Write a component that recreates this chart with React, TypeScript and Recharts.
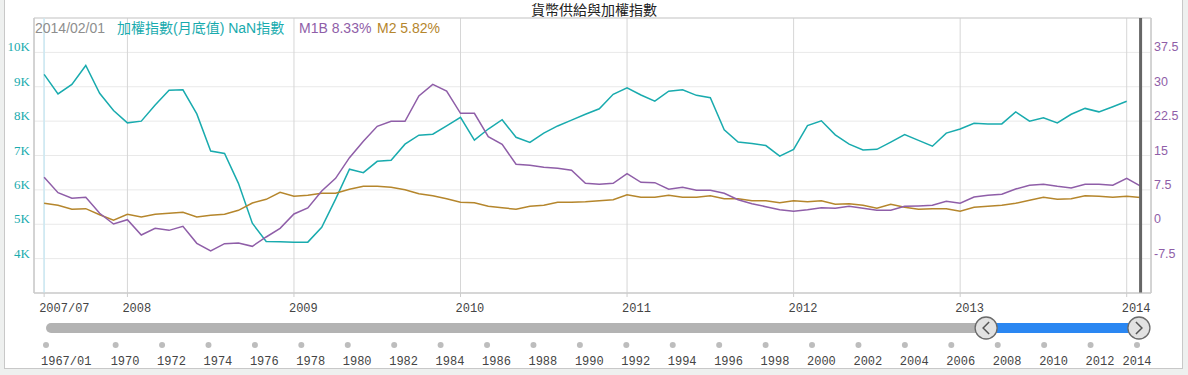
import React from 'react';
import {
  LineChart,
  Line,
  XAxis,
  YAxis,
  CartesianGrid,
  ReferenceLine,
  ReferenceArea,
  ReferenceDot,
} from 'recharts';

// monthly points, 2007/07 .. 2014/02
const months = [
  '2007/07', '2007/08', '2007/09', '2007/10', '2007/11', '2007/12',
  '2008/01', '2008/02', '2008/03', '2008/04', '2008/05', '2008/06', '2008/07', '2008/08', '2008/09', '2008/10', '2008/11', '2008/12',
  '2009/01', '2009/02', '2009/03', '2009/04', '2009/05', '2009/06', '2009/07', '2009/08', '2009/09', '2009/10', '2009/11', '2009/12',
  '2010/01', '2010/02', '2010/03', '2010/04', '2010/05', '2010/06', '2010/07', '2010/08', '2010/09', '2010/10', '2010/11', '2010/12',
  '2011/01', '2011/02', '2011/03', '2011/04', '2011/05', '2011/06', '2011/07', '2011/08', '2011/09', '2011/10', '2011/11', '2011/12',
  '2012/01', '2012/02', '2012/03', '2012/04', '2012/05', '2012/06', '2012/07', '2012/08', '2012/09', '2012/10', '2012/11', '2012/12',
  '2013/01', '2013/02', '2013/03', '2013/04', '2013/05', '2013/06', '2013/07', '2013/08', '2013/09', '2013/10', '2013/11', '2013/12',
  '2014/01', '2014/02',
];

// 加權指數(月底值)
const taiex = [
  9360, 8790, 9070, 9620, 8810, 8310,
  7950, 8000, 8470, 8900, 8910, 8210, 7130, 7060, 6190, 5030, 4500, 4490,
  4480, 4480, 4910, 5730, 6600, 6500, 6830, 6860, 7330, 7590, 7620, 7860,
  8110, 7450, 7770, 8040, 7530, 7380, 7650, 7860, 8030, 8200, 8360, 8780,
  8970, 8760, 8580, 8870, 8910, 8750, 8680, 7750, 7390, 7350, 7290, 6980,
  7180, 7870, 8010, 7600, 7330, 7160, 7180, 7390, 7610, 7440, 7270, 7650,
  7770, 7940, 7920, 7920, 8270, 8000, 8100, 7950, 8200, 8370, 8270, 8420,
  8580,
];

// M1B 年增率 (%)
const m1b = [
  10.24, 6.88, 5.66, 5.88, 2.39, 0.06,
  1.0, -2.35, -0.9, -1.33, -0.45, -4.16, -5.84, -4.24, -4.09, -4.82, -2.78, -0.89,
  2.24, 3.55, 7.26, 10.02, 14.52, 18.1, 21.37, 22.46, 22.46, 27.98, 30.53, 29.07,
  24.2, 24.2, 19.1, 17.44, 13.08, 12.86, 12.42, 12.2, 11.77, 8.93, 8.72, 8.93,
  11.03, 9.15, 9.08, 7.63, 8.06, 7.41, 7.41, 6.75, 5.36, 4.48, 3.83, 3.17,
  2.82, 3.17, 3.61, 3.48, 3.92, 3.48, 3.04, 3.04, 3.92, 4.0, 4.13, 5.0,
  4.57, 5.95, 6.32, 6.53, 7.69, 8.5, 8.72, 8.28, 7.91, 8.72, 8.72, 8.5,
  10.02, 8.33,
];

// M2 年增率 (%)
const m2 = [
  4.57, 4.13, 3.26, 3.4, 2.08, 0.86,
  2.17, 1.58, 2.17, 2.39, 2.6, 1.58, 1.95, 2.17, 3.04, 4.64, 5.44, 6.97,
  6.1, 6.32, 6.75, 6.75, 7.63, 8.28, 8.28, 8.06, 7.54, 6.67, 6.23, 5.58,
  4.79, 4.7, 3.92, 3.61, 3.26, 3.92, 4.13, 4.79, 4.79, 4.93, 5.14, 5.36,
  6.45, 5.88, 5.88, 6.32, 5.88, 5.88, 6.23, 5.58, 5.58, 5.14, 5.14, 4.7,
  5.14, 4.93, 5.14, 4.35, 4.48, 4.13, 3.48, 4.35, 3.7, 3.26, 3.4, 3.4,
  2.82, 3.7, 3.92, 4.13, 4.57, 5.22, 5.88, 5.44, 5.58, 6.23, 6.1, 5.88,
  6.1, 5.82,
];

const xTickIdx = [0, 6, 18, 30, 42, 54, 66, 78];
const xTickLabels = ['2007/07', '2008', '2009', '2010', '2011', '2012', '2013', '2014'];
const leftTicks = [4000, 5000, 6000, 7000, 8000, 9000, 10000];
const rightTicks = [-7.5, 0, 7.5, 15, 22.5, 30, 37.5];

// range slider under the chart
const sliderYears = [1967, 1970, 1972, 1974, 1976, 1978, 1980, 1982, 1984, 1986, 1988, 1990, 1992,
  1994, 1996, 1998, 2000, 2002, 2004, 2006, 2008, 2010, 2012, 2014];
const sliderLabels = ['1967/01', '1970', '1972', '1974', '1976', '1978', '1980', '1982', '1984', '1986', '1988', '1990', '1992',
  '1994', '1996', '1998', '2000', '2002', '2004', '2006', '2008', '2010', '2012', '2014'];
const rangeStart = 2007.5;
const rangeEnd = 2014.083;

const legendDate = '2014/02/01';
const legendTaiex = '加權指數(月底值) NaN指數';
const legendM1b = 'M1B 8.33%';
const legendM2 = 'M2 5.82%';

const TEAL = '#19abae';
const PURPLE = '#8f5ea8';
const BROWN = '#b5862c';

const rows = months.map((m, i) => ({
  i,
  month: m,
  taiex: i < taiex.length ? taiex[i] : null,
  m1b: m1b[i],
  m2: m2[i],
}));

const sliderRows = sliderYears.map((y) => ({ year: y, v: 0.5 }));

const kFormat = (v: number) => `${v / 1000}K`;

const XTick = (props: any) => {
  const { x, y, payload } = props;
  const k = xTickIdx.indexOf(payload.value);
  return (
    <text x={x - 5} y={y + 15} textAnchor="start" fontSize={12} fill="#444" fontFamily="Liberation Mono, monospace">
      {xTickLabels[k]}
    </text>
  );
};

const LeftTick = (props: any) => {
  const { x, y, payload } = props;
  return (
    <text x={x} y={y - 1} textAnchor="end" fontSize={13} fill={TEAL} fontFamily="Liberation Serif, serif">
      {kFormat(payload.value)}
    </text>
  );
};

const RightTick = (props: any) => {
  const { x, y, payload } = props;
  return (
    <text x={x} y={y - 1} textAnchor="start" fontSize={12.5} fill={PURPLE} fontFamily="Liberation Sans, sans-serif">
      {payload.value}
    </text>
  );
};

const SliderTick = (props: any) => {
  const { x, y, payload } = props;
  const k = sliderYears.indexOf(payload.value);
  const last = k === sliderYears.length - 1;
  return (
    <g>
      <circle cx={x} cy={y + 7} r={3} fill="#bdbdbd" />
      <text
        x={last ? x : x - 5}
        y={y + 27}
        textAnchor={last ? 'middle' : 'start'}
        fontSize={12}
        fill="#444"
        fontFamily="Liberation Mono, monospace"
      >
        {sliderLabels[k]}
      </text>
    </g>
  );
};

const Handle = (dir: 'left' | 'right') => (props: any) => {
  const { cx, cy } = props;
  const d = dir === 'left' ? 3 : -3;
  return (
    <g>
      <circle cx={cx} cy={cy} r={11} fill="#e2e2e2" stroke="#6a6a6a" strokeWidth={1.3} />
      <polyline
        points={`${cx + d},${cy - 6} ${cx - d},${cy} ${cx + d},${cy + 6}`}
        fill="none"
        stroke="#555"
        strokeWidth={1.5}
      />
    </g>
  );
};

export default function App() {
  return (
    <div style={{ position: 'fixed', left: 0, top: 0, width: 1188, height: 375, background: '#eef0ef', overflow: 'hidden' }}>
      <div
        style={{
          position: 'absolute',
          left: 4,
          top: -1,
          width: 1179,
          height: 370,
          boxSizing: 'border-box',
          border: '1px solid #c8c8c8',
          background: '#fff',
        }}
      />
      <div
        style={{
          position: 'absolute',
          left: 0,
          width: 1188,
          top: 0,
          textAlign: 'center',
          fontSize: 14,
          lineHeight: '18px',
          color: '#222',
          fontFamily: '"Noto Sans CJK TC", sans-serif',
        }}
      >
        貨幣供給與加權指數
      </div>

      <div style={{ position: 'absolute', left: 0, top: 0 }}>
        <LineChart width={1188} height={320} data={rows} margin={{ top: 18, right: 0, bottom: 0, left: 0 }}>
          <CartesianGrid vertical={false} stroke="#e9e9e9" />
          <CartesianGrid horizontal={false} stroke="#d6d6d6" />
          <XAxis
            dataKey="i"
            type="number"
            domain={[-0.73, 79.75]}
            ticks={xTickIdx}
            interval={0}
            height={27}
            tickSize={4}
            tickMargin={0}
            axisLine={{ stroke: '#cccccc' }}
            tickLine={{ stroke: '#cccccc' }}
            tick={<XTick />}
            allowDataOverflow
          />
          <YAxis
            domain={[3000, 11000]}
            ticks={leftTicks}
            interval={0}
            width={34}
            tickSize={0}
            tickMargin={4}
            axisLine={{ stroke: '#cccccc' }}
            tickLine={false}
            tick={<LeftTick />}
            allowDataOverflow
          />
          <YAxis
            yAxisId="right"
            orientation="right"
            domain={[-15, 45]}
            ticks={rightTicks}
            interval={0}
            width={37}
            tickSize={0}
            tickMargin={3}
            axisLine={{ stroke: '#cccccc' }}
            tickLine={false}
            tick={<RightTick />}
            allowDataOverflow
          />
          <ReferenceArea x1={-0.73} x2={79.75} y1={3000} y2={11000} fill="none" stroke="#cccccc" />
          <ReferenceLine x={0} stroke="#cdebf5" strokeWidth={1.5} />
          <Line dataKey="taiex" stroke={TEAL} strokeWidth={1.5} dot={false} isAnimationActive={false} />
          <Line yAxisId="right" dataKey="m2" stroke={BROWN} strokeWidth={1.5} dot={false} isAnimationActive={false} />
          <Line yAxisId="right" dataKey="m1b" stroke={PURPLE} strokeWidth={1.5} dot={false} isAnimationActive={false} />
          <ReferenceLine x={79} stroke="#666666" strokeWidth={3} />
        </LineChart>
      </div>

      <div
        style={{
          position: 'absolute',
          left: 0,
          top: 18,
          width: 1188,
          height: 20,
          fontSize: 14,
          lineHeight: '20px',
          fontFamily: '"Liberation Sans", "Noto Sans CJK TC", sans-serif',
          whiteSpace: 'nowrap',
        }}
      >
        <span style={{ position: 'absolute', left: 35, color: '#8e8e8e' }}>{legendDate}</span>
        <span style={{ position: 'absolute', left: 117, color: TEAL }}>{legendTaiex}</span>
        <span style={{ position: 'absolute', left: 299, color: PURPLE }}>{legendM1b}</span>
        <span style={{ position: 'absolute', left: 377, color: BROWN }}>{legendM2}</span>
      </div>

      <div style={{ position: 'absolute', left: 0, top: 300 }}>
        <LineChart width={1188} height={75} data={sliderRows} margin={{ top: 18, right: 51, bottom: 0, left: 46 }}>
          <XAxis
            type="number"
            dataKey="year"
            domain={[1967, 2014]}
            ticks={sliderYears}
            interval={0}
            height={37}
            tickSize={0}
            tickMargin={0}
            axisLine={false}
            tickLine={false}
            tick={<SliderTick />}
            allowDataOverflow
          />
          <YAxis hide domain={[0, 1]} />
          <Line dataKey="v" stroke="none" dot={false} isAnimationActive={false} />
          <ReferenceArea x1={1967} x2={rangeStart} y1={0.25} y2={0.75} fill="#b3b3b3" fillOpacity={1} radius={5} ifOverflow="visible" />
          <ReferenceArea x1={rangeStart} x2={rangeEnd} y1={0.25} y2={0.75} fill="#2a87f2" fillOpacity={1} ifOverflow="visible" />
          <ReferenceDot x={rangeStart} y={0.5} ifOverflow="visible" shape={Handle('left')} />
          <ReferenceDot x={rangeEnd} y={0.5} ifOverflow="visible" shape={Handle('right')} />
        </LineChart>
      </div>
    </div>
  );
}
